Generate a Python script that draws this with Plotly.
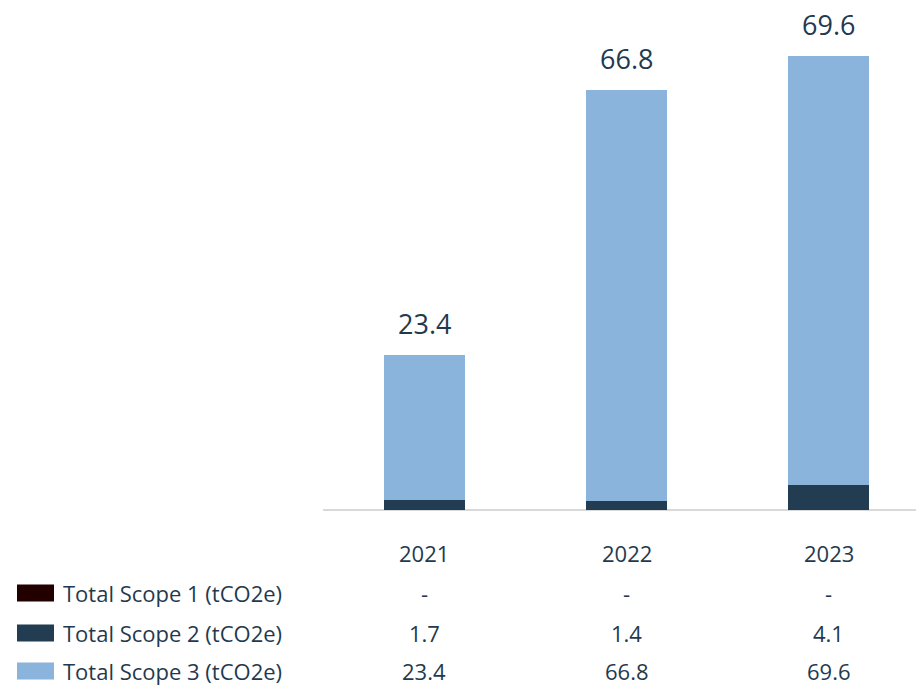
import plotly.graph_objects as go

years = ["2021", "2022", "2023"]
series_names = ["Total Scope 1 (tCO2e)", "Total Scope 2 (tCO2e)", "Total Scope 3 (tCO2e)"]
scope1 = [None, None, None]
scope2 = [1.7, 1.4, 4.1]
scope3 = [23.4, 66.8, 69.6]
colors = ["#220000", "#223d51", "#8ab4dc"]

TEXT = "#1f3a4f"
FONT = "Open Sans"
W, H = 916, 687
x_pos = [0, 1, 2]

fig = go.Figure()
for name, vals, col in zip(series_names, [scope1, scope2, scope3], colors):
    fig.add_trace(go.Bar(
        x=x_pos, y=[v if v is not None else 0 for v in vals], name=name,
        marker=dict(color=col, line=dict(width=0)), width=0.4,
        showlegend=False, hoverinfo="skip"))

totals = [(a or 0) + (b or 0) + (c or 0) for a, b, c in zip(scope1, scope2, scope3)]

annotations = []
# labels above bars (Scope 3 values)
for xi, tot, lab in zip(x_pos, totals, scope3):
    annotations.append(dict(x=xi, y=tot, xref="x", yref="y", text=f"{lab}",
                            showarrow=False, yanchor="bottom", yshift=11,
                            font=dict(family=FONT, size=27, color=TEXT)))

def py(p):
    return (H - p) / H

TS = 22
# year header row
for xi, yr in zip(x_pos, years):
    annotations.append(dict(x=xi, y=py(553), xref="x", yref="paper", text=yr,
                            showarrow=False, yanchor="middle",
                            font=dict(family=FONT, size=TS, color=TEXT)))

rows_y = [593, 633, 671]
for name, vals, col, ry in zip(series_names, [scope1, scope2, scope3], colors, rows_y):
    annotations.append(dict(x=61 / W, y=py(ry), xref="paper", yref="paper", text=name,
                            showarrow=False, xanchor="left", yanchor="middle",
                            font=dict(family=FONT, size=TS, color=TEXT)))
    for xi, v in zip(x_pos, vals):
        annotations.append(dict(x=xi, y=py(ry), xref="x", yref="paper",
                                text="-" if v is None else f"{v}",
                                showarrow=False, yanchor="middle",
                                font=dict(family=FONT, size=TS, color=TEXT)))

shapes = []
for col, ry in zip(colors, rows_y):
    shapes.append(dict(type="rect", xref="paper", yref="paper",
                       x0=17 / W, x1=54 / W, y0=py(ry + 8.5), y1=py(ry - 8.5),
                       fillcolor=col, line=dict(width=0)))

fig.update_layout(
    width=W, height=H, margin=dict(l=0, r=0, t=0, b=0),
    paper_bgcolor="white", plot_bgcolor="white",
    barmode="stack", bargap=0,
    xaxis=dict(domain=[323 / W, 1], range=[-0.5, 2.43], showticklabels=False,
               showgrid=False, zeroline=False, showline=False, fixedrange=True),
    yaxis=dict(domain=[(H - 510) / H, 1], range=[0, 82.8], showticklabels=False,
               showgrid=False, zeroline=True, zerolinecolor="#d9d9d9", zerolinewidth=2,
               showline=False),
    annotations=annotations, shapes=shapes,
)
fig.write_html("out.html")
